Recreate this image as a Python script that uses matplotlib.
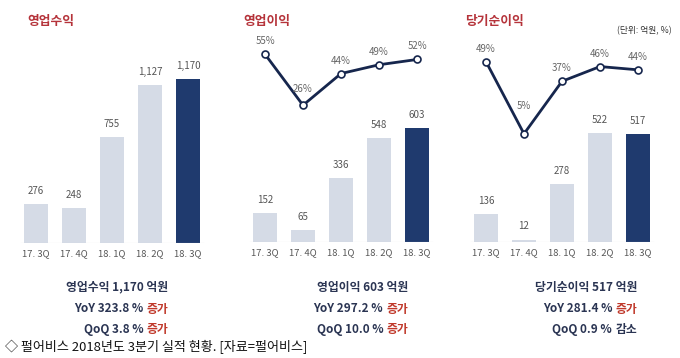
import matplotlib
matplotlib.use('Agg')
import matplotlib.pyplot as plt

plt.rcParams['font.family'] = ['Noto Sans CJK KR', 'DejaVu Sans']

# 데이터
quarters = ['17. 3Q', '17. 4Q', '18. 1Q', '18. 2Q', '18. 3Q']
revenue = [276, 248, 755, 1127, 1170]
op_profit = [152, 65, 336, 548, 603]
op_margin = [55, 26, 44, 49, 52]
net_profit = [136, 12, 278, 522, 517]
net_margin = [49, 5, 37, 46, 44]

titles = ['영업수익', '영업이익', '당기순이익']
summary_main = ['영업수익 1,170 억원', '영업이익 603 억원', '당기순이익 517 억원']
summary_yoy = ['YoY 323.8 %', 'YoY 297.2 %', 'YoY 281.4 %']
summary_yoy_dir = ['증가', '증가', '증가']
summary_qoq = ['QoQ 3.8 %', 'QoQ 10.0 %', 'QoQ 0.9 %']
summary_qoq_dir = ['증가', '증가', '감소']
caption = '◇ 펄어비스 2018년도 3분기 실적 현황. [자료=펄어비스]'

W, H = 680, 358
fig = plt.figure(figsize=(W / 100, H / 100), dpi=100)
fig.patch.set_facecolor('white')

LIGHT = '#d5dbe6'
DARK = '#1f3a6e'
LINE = '#16264d'
TITLE = '#b5333a'
NAVY = '#2b3553'
RED = '#c0392b'


def px_axes(left, top, width, bottom):
    return fig.add_axes([left / W, 1 - bottom / H, width / W, (bottom - top) / H])


def bar_panel(left, baseline, top, scale, values):
    ax = px_axes(left, top, 190, baseline)
    ax.set_xlim(-0.5, 4.5)
    ax.set_ylim(0, (baseline - top) / scale)
    colors = [LIGHT] * 4 + [DARK]
    ax.bar(range(5), values, width=0.63, color=colors)
    ax.axhline(0, color='#d4d4d4', lw=0.8, xmin=0.02, xmax=0.98)
    for i, v in enumerate(values):
        ax.annotate(f'{v:,}', (i, v), xytext=(0, 9.4), textcoords='offset points',
                    ha='center', va='center', fontsize=7, color='#555555')
    ax.set_xticks(range(5))
    ax.set_xticklabels(quarters, fontsize=6.8, color='#555555')
    ax.tick_params(length=0, pad=4.5)
    ax.set_yticks([])
    for s in ax.spines.values():
        s.set_visible(False)
    ax.patch.set_alpha(0)
    return ax


def line_panel(left, zero_px, scale, values, offsets):
    top, bottom = 30, 242
    ax = px_axes(left, top, 190, bottom)
    ax.set_xlim(-0.5, 4.5)
    ax.set_ylim(-(bottom - zero_px) / scale, (zero_px - top) / scale)
    ax.plot(range(5), values, color=LINE, lw=2, marker='o', ms=5,
            mfc='white', mec=LINE, mew=1.2, zorder=3)
    for i, v in enumerate(values):
        ax.annotate(f'{v}%', (i, v), xytext=(0, offsets[i]), textcoords='offset points',
                    ha='center', va='center', fontsize=7, color='#666666')
    ax.axis('off')
    ax.patch.set_alpha(0)
    return ax


bar_panel(17, 243, 60, 0.1402, revenue)
bar_panel(246, 242, 30, 0.189, op_profit)
bar_panel(467, 242, 30, 0.208, net_profit)
line_panel(246, 151, 1.76, op_margin, [9.4, 12, 9.4, 9.4, 9.4])
line_panel(467, 142, 1.64, net_margin, [9.4, 20, 9.4, 9.4, 9.4])

# 제목
for x, t in zip([27, 243, 465], titles):
    fig.text(x / W, 1 - 21 / H, t, fontsize=9.2, fontweight='bold', color=TITLE,
             ha='left', va='center')
fig.text(672 / W, 1 - 31 / H, '(단위: 억원, %)', fontsize=6.3, color='#333333',
         ha='right', va='center')

# 요약 텍스트
renderer = fig.canvas.get_renderer()
FS = 8.5


def two_color(xr, y, first, second, c2):
    t2 = fig.text(xr / W, 1 - y / H, second, fontsize=FS, color=c2, ha='right',
                  va='center', fontweight='bold')
    w = t2.get_window_extent(renderer).width
    fig.text((xr - w - 3) / W, 1 - y / H, first, fontsize=FS, color=NAVY, ha='right',
             va='center', fontweight='bold')


for k, xr in enumerate([168, 408, 637]):
    fig.text(xr / W, 1 - 287 / H, summary_main[k], fontsize=FS, color=NAVY,
             ha='right', va='center', fontweight='bold')
    two_color(xr, 309, summary_yoy[k], summary_yoy_dir[k], RED)
    c = RED if summary_qoq_dir[k] == '증가' else NAVY
    two_color(xr, 330, summary_qoq[k], summary_qoq_dir[k], c)

fig.text(5 / W, 1 - 347 / H, caption, fontsize=9.4, color='#111111', ha='left', va='center')

fig.savefig('out.png', dpi=100, facecolor='white')
